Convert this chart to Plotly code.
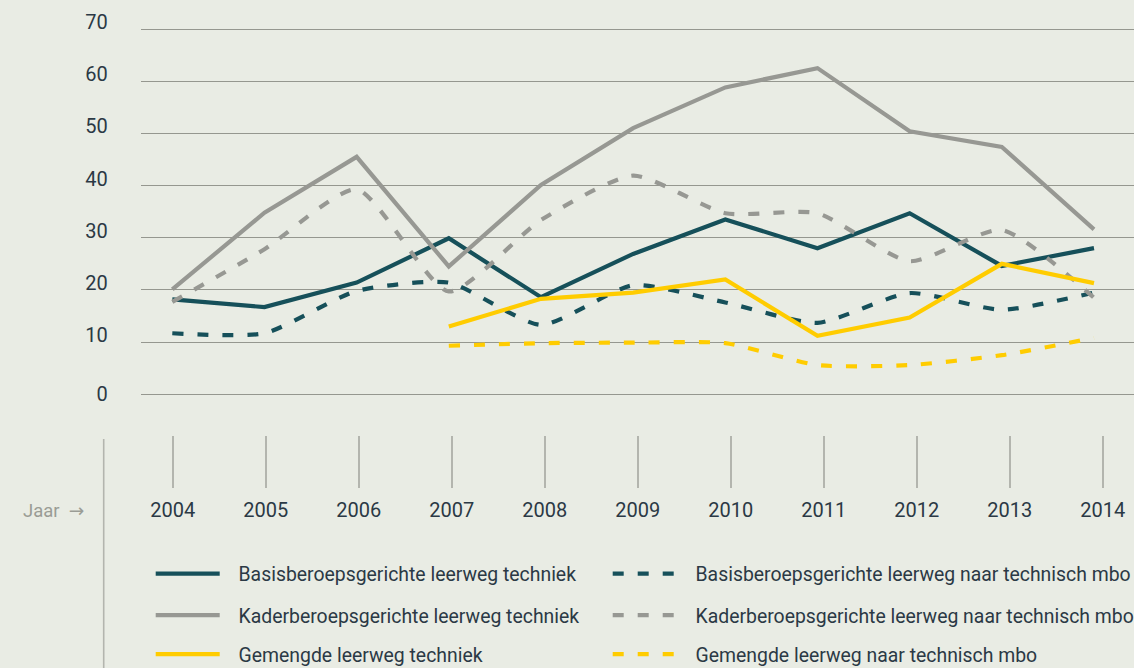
import plotly.graph_objects as go

years = [2004, 2005, 2006, 2007, 2008, 2009, 2010, 2011, 2012, 2013, 2014]
years_gl = [2007, 2008, 2009, 2010, 2011, 2012, 2013, 2014]

basis_techniek = [18.2, 16.7, 21.4, 29.9, 18.6, 26.9, 33.5, 28.0, 34.7, 24.6, 28.0]
basis_mbo = [11.7, 11.7, 19.8, 21.4, 13.3, 20.9, 17.6, 13.7, 19.4, 16.2, 19.5]
kader_techniek = [20.1, 34.8, 45.5, 24.5, 40.1, 51.0, 58.8, 62.5, 50.4, 47.4, 31.6]
kader_mbo = [17.7, 27.8, 39.3, 19.7, 33.4, 41.9, 34.7, 34.7, 25.5, 31.5, 18.5]
gemengd_techniek = [13.0, 18.3, 19.5, 22.0, 11.2, 14.7, 25.0, 21.3]
gemengd_mbo = [9.3, 9.8, 9.9, 9.8, 5.6, 5.6, 7.5, 10.8]

labels = {
    "basis_techniek": "Basisberoepsgerichte leerweg techniek",
    "basis_mbo": "Basisberoepsgerichte leerweg naar technisch mbo",
    "kader_techniek": "Kaderberoepsgerichte leerweg techniek",
    "kader_mbo": "Kaderberoepsgerichte leerweg naar technisch mbo",
    "gemengd_techniek": "Gemengde leerweg techniek",
    "gemengd_mbo": "Gemengde leerweg naar technisch mbo",
}
y_ticks = [0, 10, 20, 30, 40, 50, 60, 70]

TEAL = "#16505a"
GRAY = "#979893"
YELLOW = "#ffcc00"
BG = "#e9ece4"
TXT = "#2b3945"
FONT = "Roboto, sans-serif"
DASH = "11px,14px"
GAP = "\u2002\u2009"  # small gap between legend symbol and text

W, H = 1134, 668
fig = go.Figure()

def add(x, y, name, color, dashed, legend):
    fig.add_trace(go.Scatter(
        x=x, y=y, name=GAP + name, mode="lines",
        line=dict(color=color, width=4.2,
                  dash=DASH if dashed else "solid",
                  shape="spline" if dashed else "linear",
                  smoothing=0.6 if dashed else None),
        legend=legend, xaxis="x", yaxis="y",
        hovertemplate=name + "<br>%{x}: %{y}<extra></extra>",
    ))

add(years, basis_techniek, labels["basis_techniek"], TEAL, False, "legend")
add(years, basis_mbo, labels["basis_mbo"], TEAL, True, "legend2")
add(years, kader_techniek, labels["kader_techniek"], GRAY, False, "legend3")
add(years, kader_mbo, labels["kader_mbo"], GRAY, True, "legend4")
add(years_gl, gemengd_techniek, labels["gemengd_techniek"], YELLOW, False, "legend5")
add(years_gl, gemengd_mbo, labels["gemengd_mbo"], YELLOW, True, "legend6")

# invisible traces so the helper axes (year ticks, "0" label) are created
fig.add_trace(go.Scatter(x=years, y=[0.5] * len(years), mode="markers",
                         marker=dict(opacity=0), showlegend=False,
                         hoverinfo="skip", xaxis="x2", yaxis="y2"))
fig.add_trace(go.Scatter(x=years, y=[0] * len(years), mode="markers",
                         marker=dict(opacity=0), showlegend=False,
                         hoverinfo="skip", xaxis="x", yaxis="y3"))

x0 = 140.7 / W
plot_top, plot_bot = 29.0, 394.3
ppu = (plot_bot - plot_top) / 70.0
pad = 0.5
ydom = [1 - (plot_bot + pad * ppu) / H, 1 - (plot_top - pad * ppu) / H]
yr = [-pad, 70 + pad]
# data axis: 2004 at 172.3px, 2014 at 1094px
ppy = (1094 - 172.3) / 10
xr = [2004 - (172.3 - 140.7) / ppy, 2014 + (1134 - 1094) / ppy]
# tick axis: 2004 at 172.7px, 2014 at 1102.7px
ppy2 = 93.0
xr2 = [2004 - (172.7 - 140.7) / ppy2, 2014 + (1134 - 1102.7) / ppy2]

def leg(xpx, ypx):
    return dict(
        orientation="h",
        font=dict(family=FONT, size=19.4, color=TXT),
        bgcolor="rgba(0,0,0,0)", borderwidth=0,
        xanchor="left", x=(xpx - 5) / W, yanchor="middle", y=1 - ypx / H,
        itemwidth=64, itemclick=False, itemdoubleclick=False,
    )

rows = [574, 615.5, 654.5]
col1, col2 = 155.7, 612.7

tickfont = dict(family=FONT, size=20, color=TXT)
fig.update_layout(
    width=W, height=H,
    margin=dict(l=0, r=0, t=0, b=0, autoexpand=False),
    paper_bgcolor=BG, plot_bgcolor=BG,
    font=dict(family=FONT, size=20, color=TXT),
    showlegend=True,
    xaxis=dict(domain=[x0, 1], range=xr, visible=False, anchor="y", fixedrange=True),
    yaxis=dict(domain=ydom, range=yr,
               tickvals=y_ticks, ticktext=[""] + [str(v) for v in y_ticks[1:]],
               showgrid=True, gridcolor="#95978f", gridwidth=1.3,
               zeroline=False, showline=False, ticks="", anchor="x",
               ticklabelstandoff=32, ticklabelshift=-7,
               tickfont=tickfont, fixedrange=True),
    yaxis3=dict(domain=ydom, range=yr, overlaying="y", anchor="x", side="left",
                tickvals=[0], ticktext=["0"], showgrid=False, zeroline=False,
                showline=False, ticks="", ticklabelstandoff=32,
                tickfont=tickfont, fixedrange=True),
    xaxis2=dict(domain=[x0, 1], range=xr2, anchor="y2", tickvals=years,
                ticktext=[str(y) for y in years],
                showgrid=True, gridcolor="#b3b5ae", gridwidth=1.6,
                zeroline=False, showline=False, ticks="", side="bottom",
                ticklabelstandoff=8, tickfont=tickfont, fixedrange=True),
    yaxis2=dict(domain=[1 - 488 / H, 1 - 436 / H], range=[0, 1], visible=False,
                anchor="x2", fixedrange=True),
    legend=leg(col1, rows[0]),
    legend2=leg(col2, rows[0]),
    legend3=leg(col1, rows[1]),
    legend4=leg(col2, rows[1]),
    legend5=leg(col1, rows[2]),
    legend6=leg(col2, rows[2]),
    shapes=[dict(type="line", xref="paper", yref="paper",
                 x0=103.7 / W, x1=103.7 / W, y0=0, y1=1 - 439 / H,
                 line=dict(color="#b3b5ae", width=1.6))],
    annotations=[dict(text="Jaar  <span style='font-family:DejaVu Sans'>→</span>",
                      xref="paper", yref="paper",
                      x=21 / W, y=1 - 510.7 / H, xanchor="left", yanchor="middle",
                      showarrow=False,
                      font=dict(family=FONT, size=18.5, color="#9a9c95"))],
)

fig.write_html("out.html", config={"displayModeBar": False},
               post_script="document.body.style.margin='0';")
